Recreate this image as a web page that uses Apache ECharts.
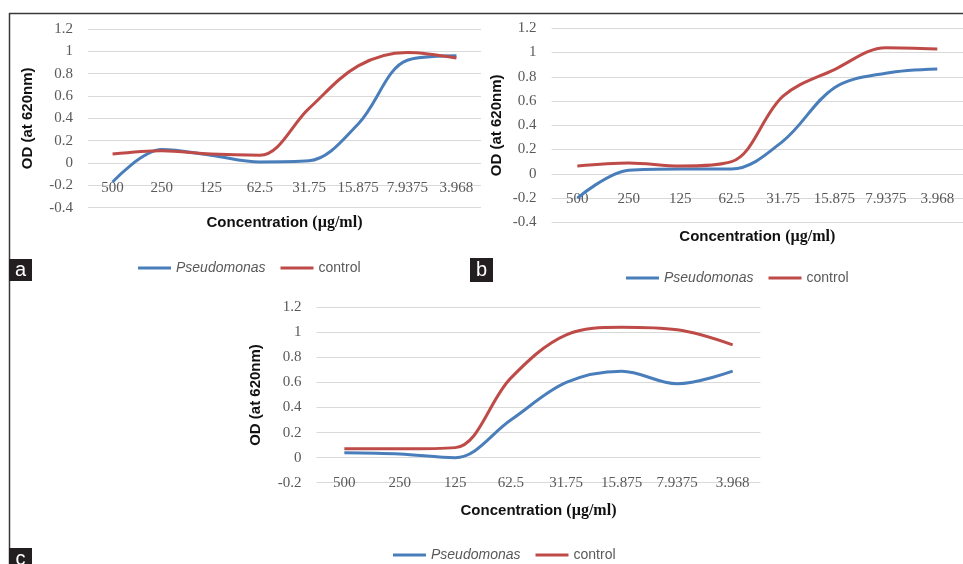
<!DOCTYPE html>
<html>
<head>
<meta charset="utf-8">
<script src="https://cdn.jsdelivr.net/npm/echarts@6/dist/echarts.min.js"></script>
<style>
  html, body { margin: 0; padding: 0; background: #fff; }
  #chart { width: 963px; height: 564px; }
</style>
</head>
<body>
<div id="chart"></div>
<script>
// concentration categories (µg/ml)
const categories = ['500', '250', '125', '62.5', '31.75', '15.875', '7.9375', '3.968']

// OD at 620nm
const pseudoA = [-0.17, 0.12, 0.07, 0.01, 0.02, 0.35, 0.92, 0.96]
const controlA = [0.08, 0.11, 0.08, 0.07, 0.49, 0.87, 0.99, 0.94]
const pseudoB = [-0.2, 0.03, 0.04, 0.04, 0.27, 0.71, 0.83, 0.865]
const controlB = [0.065, 0.09, 0.065, 0.1, 0.64, 0.86, 1.04, 1.03]
const pseudoC = [0.04, 0.03, 0.0, 0.3, 0.6, 0.69, 0.59, 0.69]
const controlC = [0.07, 0.07, 0.08, 0.635, 0.98, 1.04, 1.02, 0.9]

const BLUE = '#4a7ebb'
const RED = '#be4b48'
const GRID_LINE = '#d9d9d9'
const LABEL = '#595959'

const chart = echarts.init(document.getElementById('chart'))

const grids = [
    { left: 88, top: 29, width: 393, height: 178.7 },
    { left: 551.6, top: 28.3, width: 411.6, height: 194 },
    { left: 316.6, top: 307.3, width: 443.8, height: 175.4 }
]

// the category axis sits on y = 0, like in excel
const xOffset = [-44.7, -48.3, -25]
const xNameGap = [52, 54.5, 45]
const yNameGap = [53, 47, 53]
const yMin = [-0.4, -0.4, -0.2]

const xAxes = grids.map((g, i) => ({
    type: 'category',
    gridIndex: i,
    position: 'bottom',
    offset: xOffset[i],
    data: categories,
    boundaryGap: true,
    axisLine: { show: false, onZero: false },
    axisTick: { show: false },
    axisLabel: {
        interval: 0, margin: 18, color: LABEL,
        fontFamily: 'Liberation Serif', fontSize: 15
    },
    name: '{a|Concentration }{b|(µg/ml)}',
    nameLocation: 'middle',
    nameGap: xNameGap[i],
    nameTextStyle: {
        rich: {
            a: { fontFamily: 'Liberation Sans', fontWeight: 'bold', fontSize: 15, color: '#111' },
            b: { fontFamily: 'Liberation Serif', fontWeight: 'bold', fontSize: 16, color: '#111' }
        }
    }
}))

const yAxes = grids.map((g, i) => ({
    type: 'value',
    gridIndex: i,
    min: yMin[i],
    max: 1.2,
    interval: 0.2,
    axisLine: { show: false },
    axisTick: { show: false },
    splitLine: { lineStyle: { color: GRID_LINE, width: 1 } },
    axisLabel: {
        margin: 15, color: LABEL,
        fontFamily: 'Liberation Serif', fontSize: 15
    },
    name: 'OD (at 620nm)',
    nameLocation: 'middle',
    nameRotate: 90,
    nameGap: yNameGap[i],
    nameTextStyle: { fontFamily: 'Liberation Sans', fontWeight: 'bold', fontSize: 15, color: '#111' }
}))

const panels = [[pseudoA, controlA], [pseudoB, controlB], [pseudoC, controlC]]
const series = []
panels.forEach(([p, c], i) => {
    series.push({
        name: 'Pseudomonas', type: 'line', xAxisIndex: i, yAxisIndex: i,
        data: p, smooth: 0.35, symbol: 'none',
        lineStyle: { color: BLUE, width: 3 }, itemStyle: { color: BLUE }
    })
    series.push({
        name: 'control', type: 'line', xAxisIndex: i, yAxisIndex: i,
        data: c, smooth: 0.35, symbol: 'none',
        lineStyle: { color: RED, width: 3 }, itemStyle: { color: RED }
    })
})

const legendPos = [[138, 261], [626, 271], [393, 548]]
const legends = legendPos.map(([x, y]) => ({
    left: x, top: y, padding: 0,
    icon: 'rect', itemWidth: 33, itemHeight: 3, itemGap: 15,
    selectedMode: false,
    textStyle: { color: LABEL, fontFamily: 'Liberation Sans', fontSize: 14 },
    data: [{ name: 'Pseudomonas', textStyle: { fontStyle: 'italic' } }, 'control']
}))

const panelLabel = (x, y, w, h, ch, ty) => ([
    { type: 'rect', shape: { x: x, y: y, width: w, height: h }, style: { fill: '#231f20' } },
    {
        type: 'text', x: x + w / 2, y: ty,
        style: { text: ch, fill: '#fff', font: '20px Liberation Sans', align: 'center', verticalAlign: 'middle' }
    }
])

const option = {
    animation: false,
    grid: grids,
    xAxis: xAxes,
    yAxis: yAxes,
    legend: legends,
    series: series,
    graphic: [
        { type: 'line', shape: { x1: 9, y1: 13.5, x2: 963, y2: 13.5 }, style: { stroke: '#3a3a3a', lineWidth: 1.5 } },
        { type: 'line', shape: { x1: 9.5, y1: 13, x2: 9.5, y2: 564 }, style: { stroke: '#3a3a3a', lineWidth: 1.5 } },
        ...panelLabel(9, 259, 23, 22, 'a', 270),
        ...panelLabel(470, 258, 23, 24, 'b', 270),
        ...panelLabel(9, 548, 23, 16, 'c', 559)
    ]
}

chart.setOption(option)
</script>
</body>
</html>
